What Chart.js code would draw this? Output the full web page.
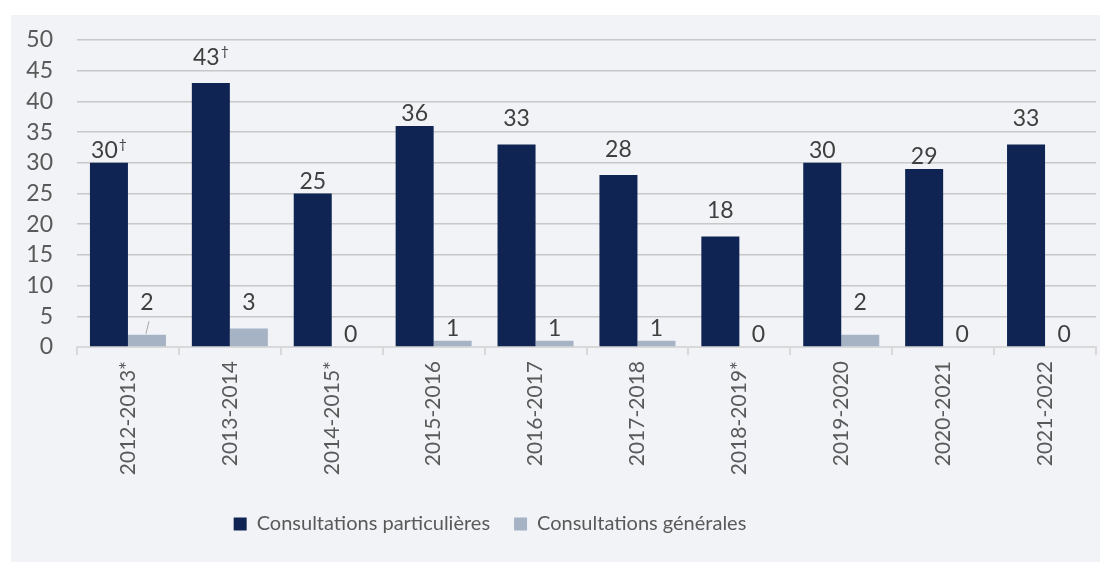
<!DOCTYPE html>
<html>
<head>
<meta charset="utf-8">
<script src="https://cdn.jsdelivr.net/npm/chart.js@4.4.1/dist/chart.umd.min.js"></script>
<style>
  html, body { margin: 0; padding: 0; background: #fff; }
  #wrap { position: relative; width: 1109px; height: 562px; }
</style>
</head>
<body>
<div id="wrap"><canvas id="chart"></canvas></div>
<script>
// données du graphique
const years = ['2012-2013*', '2013-2014', '2014-2015*', '2015-2016', '2016-2017',
               '2017-2018', '2018-2019*', '2019-2020', '2020-2021', '2021-2022'];
const particulieres = [30, 43, 25, 36, 33, 28, 18, 30, 29, 33];
const generales     = [2, 3, 0, 1, 1, 1, 0, 2, 0, 0];
const notesPart = ['†', '†', '', '', '', '', '', '', '', ''];
const notesGen  = ['', '', '', '', '', '', '', '', '', ''];
const yTicks = [0, 5, 10, 15, 20, 25, 30, 35, 40, 45, 50];

const FONT = 'Lato, "Open Sans", sans-serif';
const TXT = '#595959';

// fond gris du cadre
const panelBg = {
  id: 'panelBg',
  beforeDraw(chart){
    const ctx = chart.ctx;
    ctx.save();
    ctx.fillStyle = '#f2f3f7';
    ctx.fillRect(11, 15, 1089, 547);
    ctx.restore();
  }
};

// légende un peu décalée vers la gauche (comme dans l'original)
const legendShift = {
  id: 'legendShift',
  afterLayout(chart, args, opts){
    const lg = chart.legend;
    if(!lg) return;
    lg.right = lg.left + 2 * (opts.center - lg.left);
    lg.width = lg.right - lg.left;
  }
};

// étiquettes de valeurs (avec exposant †), déplacées au-dessus d'un quadrillage si besoin
const barLabels = {
  id: 'barLabels',
  afterDatasetsDraw(chart, args, opts){
    const {ctx, scales: {y}} = chart;
    const gridYs = y.ticks.map(t => y.getPixelForValue(t.value));
    const size = opts.size, noteSize = opts.noteSize, digitH = opts.digitH;
    ctx.save();
    ctx.fillStyle = opts.color;
    ctx.textBaseline = 'alphabetic';
    ctx.textAlign = 'left';
    chart.data.datasets.forEach((ds, d) => {
      const meta = chart.getDatasetMeta(d);
      meta.data.forEach((bar, i) => {
        const txt = String(ds.data[i]);
        const note = (ds.notes && ds.notes[i]) || '';
        ctx.font = `${size}px ${FONT}`;
        const w1 = ctx.measureText(txt).width;
        ctx.font = `${noteSize}px ${FONT}`;
        const w2 = note ? ctx.measureText(note).width + 1 : 0;
        let base = bar.y - 5;
        gridYs.forEach(gy => {
          if (gy < base - 2 && gy > base - digitH + 1) base = gy - 6;
        });
        const x0 = bar.x - (w1 + w2) / 2;
        ctx.font = `${size}px ${FONT}`;
        ctx.fillText(txt, x0, base);
        if (note) {
          ctx.font = `${noteSize}px ${FONT}`;
          ctx.fillText(note, x0 + w1 + 1, base - digitH + noteSize * 0.62);
        }
        if (opts.leaders.includes(d + ':' + i)) {
          ctx.strokeStyle = '#a6a6a6';
          ctx.lineWidth = 1;
          ctx.beginPath();
          ctx.moveTo(bar.x + 2, base + 11);
          ctx.lineTo(bar.x - 1, bar.y - 1);
          ctx.stroke();
        }
      });
    });
    ctx.restore();
  }
};

const ctx = document.getElementById('chart').getContext('2d');
new Chart(ctx, {
  type: 'bar',
  data: {
    labels: years,
    datasets: [
      {
        label: 'Consultations particulières',
        data: particulieres,
        notes: notesPart,
        backgroundColor: '#0f2452',
        categoryPercentage: 0.746,
        barPercentage: 1
      },
      {
        label: 'Consultations générales',
        data: generales,
        notes: notesGen,
        backgroundColor: '#a6b3c5',
        categoryPercentage: 0.746,
        barPercentage: 1
      }
    ]
  },
  options: {
    responsive: true,
    maintainAspectRatio: false,
    animation: false,
    layout: { padding: { left: 11, top: 40, right: 13, bottom: 18 } },
    plugins: {
      legend: {
        position: 'bottom',
        labels: {
          color: TXT,
          font: { family: FONT, size: 20 },
          boxWidth: 13,
          boxHeight: 13,
          padding: 24
        }
      },
      tooltip: { enabled: false },
      legendShift: { center: 490 },
      barLabels: { size: 23, noteSize: 14, digitH: 17, color: '#3f3f3f', leaders: ['1:0'] }
    },
    scales: {
      x: {
        grid: {
          drawOnChartArea: false,
          drawTicks: true,
          tickLength: 8,
          color: '#d9d9d9',
          lineWidth: 2
        },
        border: { display: true, color: '#d9d9d9', width: 2 },
        ticks: {
          color: TXT,
          font: { family: FONT, size: 21 },
          minRotation: 90,
          maxRotation: 90,
          autoSkip: false,
          padding: 6
        },
        afterFit(scale){ scale.height = 143; }
      },
      y: {
        min: 0,
        max: 50,
        afterBuildTicks(scale){ scale.ticks = yTicks.map(v => ({ value: v })); },
        grid: { color: '#c8c8c8', lineWidth: 1.5, drawTicks: false },
        border: { display: false },
        ticks: {
          color: TXT,
          font: { family: FONT, size: 23 },
          autoSkip: false,
          padding: 24
        },
        afterFit(scale){ scale.width = 66; }
      }
    }
  },
  plugins: [panelBg, legendShift, barLabels]
});
</script>
</body>
</html>
